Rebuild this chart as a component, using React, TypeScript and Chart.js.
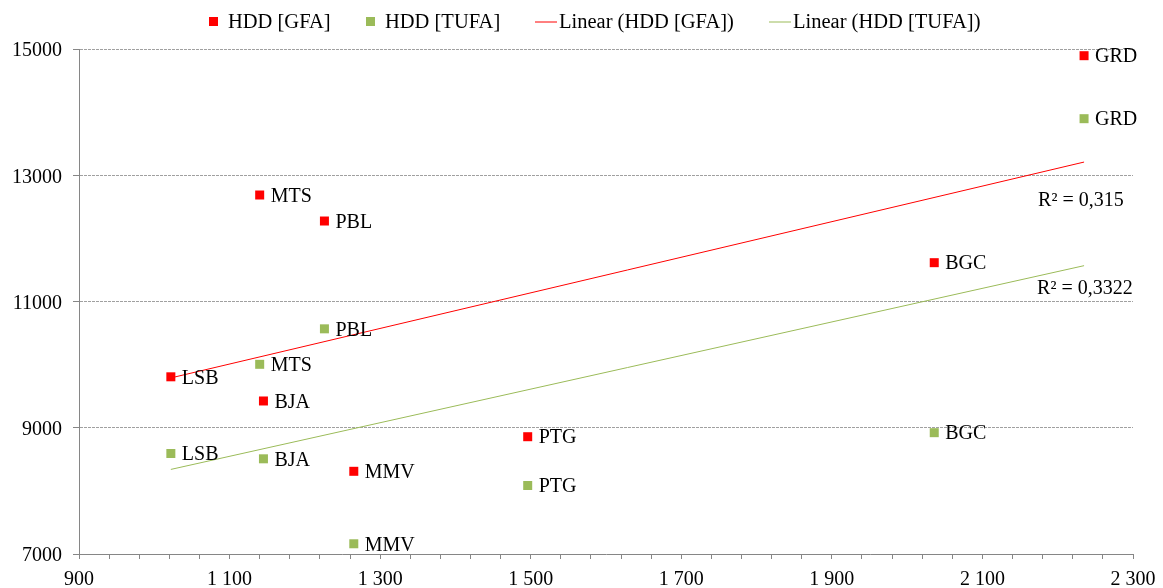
import React, { useEffect, useRef } from 'react';
import { Chart, registerables } from 'chart.js';

Chart.register(...registerables);

// ---------- data ----------
const sites = ['LSB', 'MTS', 'BJA', 'PBL', 'MMV', 'PTG', 'BGC', 'GRD'];
const xValues = [1022, 1140, 1145, 1226, 1265, 1496, 2036, 2235];
const hddGFA = [9807, 12687, 9424, 12275, 8310, 8858, 11615, 14894];
const hddTUFA = [8592, 10005, 8508, 10567, 7162, 8085, 8922, 13896];
const seriesNames = ['HDD [GFA]', 'HDD [TUFA]'];
const trendNames = ['Linear (HDD [GFA])', 'Linear (HDD [TUFA])'];
const r2Labels = ['R² = 0,315', 'R² = 0,3322'];

const X_MIN = 900;
const X_MAX = 2300;
const X_MAJOR = 200;
const X_MINOR = 40;
const Y_MIN = 7000;
const Y_MAX = 15000;
const Y_STEP = 2000;

// ---------- styles ----------
const RED = '#FF0000';
const GREEN = '#9BBB59';
const AXIS = '#868686';
const GRID = '#a0a0a0';
const FONT_FAMILY = "'Liberation Serif', 'Times New Roman', serif";
const FONT = `20px ${FONT_FAMILY}`;
const LEGEND_FONT = `20.5px ${FONT_FAMILY}`;
const R2_OFFSETS = [
  { dx: -46, dy: 39 },
  { dx: -47, dy: 23 },
];
const LEGEND_LEFT = 209;
const LEGEND_Y = 21.5;

function linReg(xs: number[], ys: number[]) {
  const n = xs.length;
  const mx = xs.reduce((a, b) => a + b, 0) / n;
  const my = ys.reduce((a, b) => a + b, 0) / n;
  let sxy = 0;
  let sxx = 0;
  for (let i = 0; i < n; i++) {
    sxy += (xs[i] - mx) * (ys[i] - my);
    sxx += (xs[i] - mx) * (xs[i] - mx);
  }
  const slope = sxy / sxx;
  const intercept = my - slope * mx;
  return { slope, intercept };
}

function trendPoints(xs: number[], ys: number[]) {
  const { slope, intercept } = linReg(xs, ys);
  const lo = Math.min(...xs);
  const hi = Math.max(...xs);
  return [
    { x: lo, y: intercept + slope * lo },
    { x: hi, y: intercept + slope * hi },
  ];
}

function fmtX(v: number) {
  if (v >= 1000) {
    return `${Math.floor(v / 1000)} ${String(v % 1000).padStart(3, '0')}`;
  }
  return String(v);
}

const labelsPlugin = {
  id: 'pointLabels',
  afterDatasetsDraw(chart: any) {
    const ctx = chart.ctx;
    ctx.save();
    ctx.font = FONT;
    ctx.fillStyle = '#000';
    ctx.textAlign = 'left';
    ctx.textBaseline = 'middle';
    [0, 1].forEach((di) => {
      const meta = chart.getDatasetMeta(di);
      meta.data.forEach((el: any, i: number) => {
        ctx.fillText(sites[i], el.x + 11, el.y + 1.5);
      });
    });
    [2, 3].forEach((di, k) => {
      const meta = chart.getDatasetMeta(di);
      const end = meta.data[meta.data.length - 1];
      ctx.fillText(r2Labels[k], end.x + R2_OFFSETS[k].dx, end.y + R2_OFFSETS[k].dy);
    });
    ctx.restore();
  },
};

const legendPlugin = {
  id: 'customLegend',
  afterDraw(chart: any) {
    const ctx = chart.ctx;
    const items = [
      { kind: 'square', color: RED, text: seriesNames[0] },
      { kind: 'square', color: GREEN, text: seriesNames[1] },
      { kind: 'line', color: RED, text: trendNames[0] },
      { kind: 'line', color: GREEN, text: trendNames[1] },
    ];
    const SQ = 9;
    const LN = 22;
    const GAP = 35;
    ctx.save();
    ctx.font = LEGEND_FONT;
    ctx.textAlign = 'left';
    ctx.textBaseline = 'middle';
    const widths = items.map(
      (it) => (it.kind === 'square' ? SQ + 10 : LN + 2) + ctx.measureText(it.text).width
    );
    let x = LEGEND_LEFT;
    const y = LEGEND_Y;
    items.forEach((it, i) => {
      const x0 = Math.round(x);
      let tx;
      if (it.kind === 'square') {
        ctx.fillStyle = it.color;
        ctx.fillRect(x0, Math.round(y - SQ / 2), SQ, SQ);
        tx = x0 + SQ + 10;
      } else {
        ctx.strokeStyle = it.color;
        ctx.lineWidth = 1;
        ctx.setLineDash([]);
        ctx.beginPath();
        ctx.moveTo(x0, Math.round(y));
        ctx.lineTo(x0 + LN, Math.round(y));
        ctx.stroke();
        tx = x0 + LN + 2;
      }
      ctx.fillStyle = '#000';
      ctx.fillText(it.text, tx, y + 1);
      x += widths[i] + GAP;
    });
    ctx.restore();
  },
};

export default function App() {
  const canvasRef = useRef<HTMLCanvasElement | null>(null);

  useEffect(() => {
    if (!canvasRef.current) return;
    const gfaPts = xValues.map((x, i) => ({ x, y: hddGFA[i] }));
    const tufaPts = xValues.map((x, i) => ({ x, y: hddTUFA[i] }));

    const chart = new Chart(canvasRef.current, {
      type: 'scatter',
      data: {
        datasets: [
          {
            label: seriesNames[0],
            data: gfaPts,
            backgroundColor: RED,
            borderWidth: 0,
            pointStyle: 'rect',
            pointRadius: 6.364,
            order: 2,
          },
          {
            label: seriesNames[1],
            data: tufaPts,
            backgroundColor: GREEN,
            borderWidth: 0,
            pointStyle: 'rect',
            pointRadius: 6.364,
            order: 3,
          },
          {
            label: trendNames[0],
            data: trendPoints(xValues, hddGFA),
            showLine: true,
            borderColor: RED,
            borderWidth: 1,
            pointRadius: 0,
            fill: false,
            order: 0,
          },
          {
            label: trendNames[1],
            data: trendPoints(xValues, hddTUFA),
            showLine: true,
            borderColor: GREEN,
            borderWidth: 1,
            pointRadius: 0,
            fill: false,
            order: 1,
          },
        ],
      },
      options: {
        animation: false,
        responsive: true,
        maintainAspectRatio: false,
        devicePixelRatio: 1,
        layout: { padding: { top: 49, right: 30, left: 12, bottom: 0 } },
        plugins: {
          legend: { display: false },
          tooltip: { enabled: false },
        },
        scales: {
          x: {
            type: 'linear',
            min: X_MIN,
            max: X_MAX,
            afterFit: (s: any) => {
              s.height = 34;
            },
            ticks: {
              stepSize: X_MINOR,
              autoSkip: false,
              maxRotation: 0,
              minRotation: 0,
              padding: 0,
              color: '#000',
              font: { family: FONT_FAMILY, size: 20, lineHeight: 2.1 },
              callback: (v: any) => ((Number(v) - X_MIN) % X_MAJOR === 0 ? fmtX(Number(v)) : ''),
            },
            grid: {
              drawOnChartArea: false,
              drawTicks: true,
              tickLength: 5,
              tickColor: AXIS,
              tickWidth: 1,
            },
            border: { display: true, color: AXIS, width: 1 },
          },
          y: {
            type: 'linear',
            min: Y_MIN,
            max: Y_MAX,
            afterFit: (s: any) => {
              s.width = 67;
            },
            ticks: {
              stepSize: Y_STEP,
              padding: 11,
              labelOffset: 2,
              color: '#000',
              font: { family: FONT_FAMILY, size: 20 },
              callback: (v: any) => String(v),
            },
            grid: {
              drawOnChartArea: true,
              drawTicks: true,
              tickLength: 6,
              tickColor: AXIS,
              tickWidth: 1,
              lineWidth: 1,
              color: (c: any) => (c.tick && c.tick.value === Y_MIN ? 'rgba(0,0,0,0)' : GRID),
            },
            border: { display: true, color: AXIS, width: 1, dash: [3, 1] },
          },
        },
      },
      plugins: [labelsPlugin, legendPlugin],
    } as any);

    return () => chart.destroy();
  }, []);

  return (
    <>
      <style>{'html,body{margin:0;padding:0;overflow:hidden;background:#fff}'}</style>
      <div style={{ width: 1163, height: 588, position: 'relative' }}>
        <canvas ref={canvasRef} />
      </div>
    </>
  );
}
